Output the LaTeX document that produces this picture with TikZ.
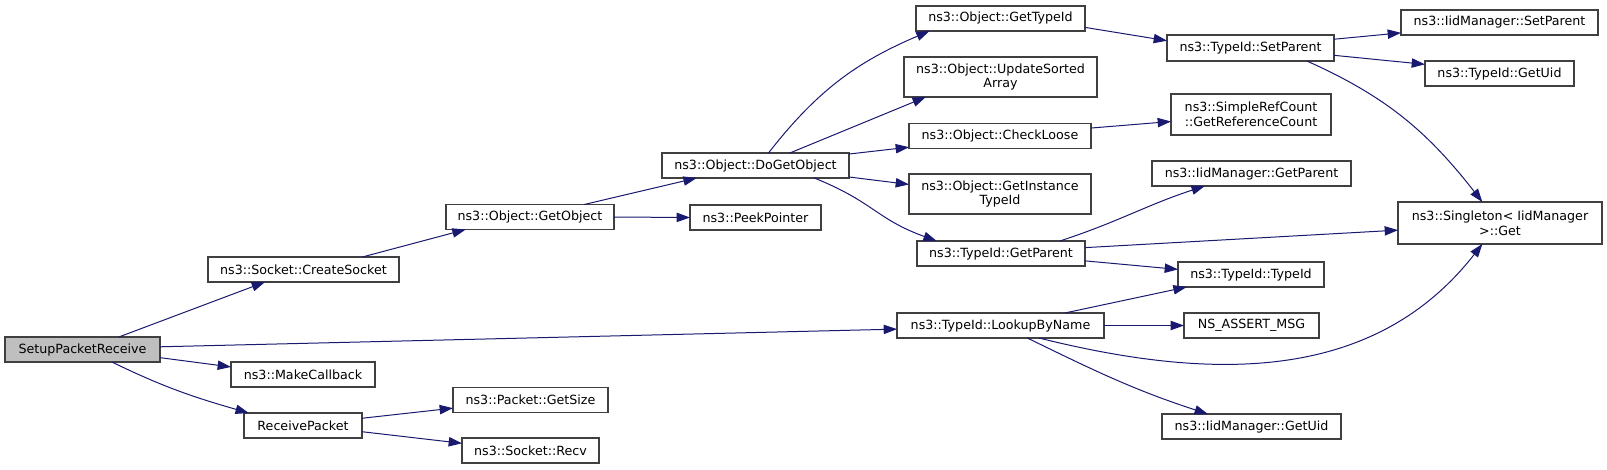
\documentclass[tikz,border=0pt]{standalone}
\usepackage{fontspec}
\setmainfont{DejaVu Sans}
\usepackage{tikz}
\usetikzlibrary{arrows.meta}
\definecolor{callblue}{HTML}{191970}
\definecolor{rootgray}{HTML}{BFBFBF}
\definecolor{boxline}{HTML}{404040}

\begin{document}
\begin{tikzpicture}[x=0.75pt,y=-0.75pt,
  fn/.style={draw=boxline,fill=white,line width=0.8pt,inner sep=0pt,outer sep=0pt,
    minimum height=18.75pt,align=center,font=\fontsize{9.5}{11}\selectfont},
  call/.style={callblue,line width=0.75pt,-{Triangle[length=10pt,width=7pt]}}]
  \useasboundingbox (0,0) rectangle (1607,469);
  % first column
  \node[fn,fill=rootgray,minimum width=116.25pt] (setup) at (82.5,349.5) {SetupPacketReceive};
  % second column
  \node[fn,minimum width=143.25pt] (createsocket) at (303.5,269.5) {ns3::Socket::CreateSocket};
  \node[fn,minimum width=108pt] (makecallback) at (303,374.5) {ns3::MakeCallback};
  \node[fn,minimum width=88.5pt] (receivepacket) at (303,425.5) {ReceivePacket};
  % third column
  \node[fn,minimum width=126pt] (getobject) at (530,217) {ns3::Object::GetObject};
  \node[fn,minimum width=116.25pt] (getsize) at (530.5,400) {ns3::Packet::GetSize};
  \node[fn,minimum width=102.75pt] (recv) at (530.5,450.5) {ns3::Socket::Recv};
  % fourth column
  \node[fn,minimum width=140.25pt] (dogetobject) at (755.5,165.5) {ns3::Object::DoGetObject};
  \node[fn,minimum width=98.25pt] (peekpointer) at (755.5,217.5) {ns3::PeekPointer};
  % fifth column
  \node[fn,minimum width=126.75pt] (gettypeid) at (1000.5,18.5) {ns3::Object::GetTypeId};
  \node[fn,minimum width=144.75pt,minimum height=30pt] (updatesorted) at (1000.5,77) {ns3::Object::UpdateSorted\\Array};
  \node[fn,minimum width=136.5pt] (checkloose) at (1000,136) {ns3::Object::CheckLoose};
  \node[fn,minimum width=136.5pt,minimum height=30pt] (getinstance) at (1000,194) {ns3::Object::GetInstance\\TypeId};
  \node[fn,minimum width=126pt] (tidgetparent) at (1001,253.5) {ns3::TypeId::GetParent};
  \node[fn,minimum width=155.25pt] (lookupbyname) at (1000.5,325.5) {ns3::TypeId::LookupByName};
  % sixth column
  \node[fn,minimum width=125.25pt,minimum height=19.5pt] (tidsetparent) at (1250.5,48) {ns3::TypeId::SetParent};
  \node[fn,minimum width=120pt,minimum height=30.75pt] (refcount) at (1251,114.5) {ns3::SimpleRefCount\\::GetReferenceCount};
  \node[fn,minimum width=149.25pt] (iidgetparent) at (1251.5,173.5) {ns3::IidManager::GetParent};
  \node[fn,minimum width=109.5pt] (tidtypeid) at (1251,274.5) {ns3::TypeId::TypeId};
  \node[fn,minimum width=101.25pt] (nsassert) at (1251.5,325.5) {NS\_ASSERT\_MSG};
  \node[fn,minimum width=134.25pt] (iidgetuid) at (1251.5,426.5) {ns3::IidManager::GetUid};
  % last column
  \node[fn,minimum width=147.75pt] (iidsetparent) at (1499.5,22.5) {ns3::IidManager::SetParent};
  \node[fn,minimum width=111.75pt] (tidgetuid) at (1499.5,73.5) {ns3::TypeId::GetUid};
  \node[fn,minimum width=153pt,minimum height=31.5pt] (singleton) at (1500,223) {ns3::Singleton< IidManager\\>::Get};

  % calls
  \draw[call] (setup.19) -- (createsocket.198);
  \draw[call] (setup.2) -- (lookupbyname.182);
  \draw[call] (setup.-6) -- (makecallback.174);
  \draw[call] (setup.-23) to[out=-26,in=164] (receivepacket.167);
  \draw[call] (createsocket.12) -- (getobject.191);
  \draw[call] (getobject.13) -- (dogetobject.192);
  \draw[call] (getobject.east) -- (peekpointer.west);
  \draw[call] (receivepacket.7) -- (getsize.186);
  \draw[call] (receivepacket.-6) -- (recv.174);
  \draw[call] (dogetobject.44) to[out=52,in=203] (gettypeid.190);
  \draw[call] (dogetobject.20) -- (updatesorted.195);
  \draw[call] (dogetobject.7) -- (checkloose.187);
  \draw[call] (dogetobject.-7) -- (getinstance.174);
  \draw[call] (dogetobject.-12) to[out=-22,in=160,looseness=1.2] (tidgetparent.169);
  \draw[call] (gettypeid.-6) -- (tidsetparent.175);
  \draw[call] (checkloose.5) -- (refcount.185);
  \draw[call] (tidgetparent.12) to[out=18,in=198] (iidgetparent.195);
  \draw[call] (tidgetparent.4) -- (singleton.184);
  \draw[call] (tidgetparent.-5) -- (tidtypeid.176);
  \draw[call] (lookupbyname.11) -- (tidtypeid.191);
  \draw[call] (lookupbyname.east) -- (nsassert.west);
  \draw[call] (lookupbyname.-18) to[out=-14,in=232] (singleton.230);
  \draw[call] (lookupbyname.-25) to[out=-26,in=162] (iidgetuid.164);
  \draw[call] (tidsetparent.6) -- (iidsetparent.186);
  \draw[call] (tidsetparent.-5) -- (tidgetuid.173);
  \draw[call] (tidsetparent.-13) to[out=-24,in=128] (singleton.130);
\end{tikzpicture}
\end{document}
